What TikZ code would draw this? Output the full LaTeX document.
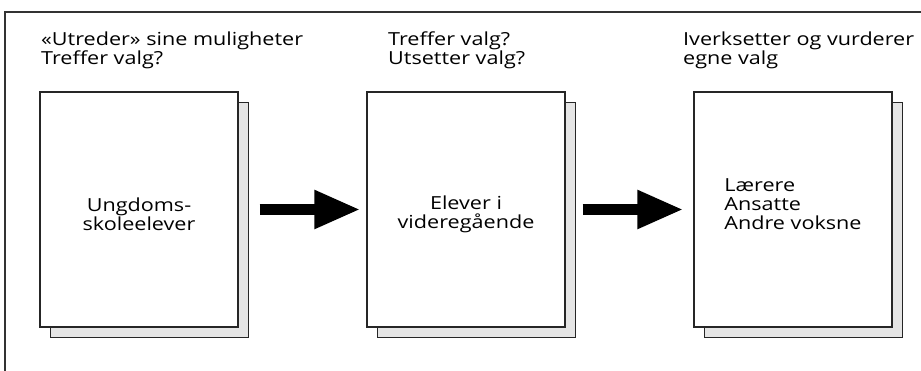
\documentclass[tikz,border=0pt]{standalone}
\usepackage{fontspec}
\setmainfont{Open Sans}[FakeStretch=1.2]
\usetikzlibrary{arrows.meta,shadows}

\begin{document}
\begin{tikzpicture}[x=1pt, y=-1pt,
    every node/.style={font=\fontsize{18}{17}\selectfont},
    stagebox/.style={draw=black!85, line width=1.2pt, fill=white,
        minimum width=198pt, minimum height=235pt, inner sep=0pt,
        drop shadow={shadow xshift=10.5pt, shadow yshift=-10.5pt, opacity=1,
            fill=black!10, draw=black!85, line width=1.2pt}},
    stagetext/.style={align=center, inner sep=0pt, font=\fontsize{18}{19}\selectfont},
    heading/.style={anchor=base west, align=left, inner sep=0pt},
    bigarrow/.style={line width=11pt, -{Triangle[length=46pt, width=36pt]}}]
    \useasboundingbox (0,0) rectangle (921,371);
    % frame
    \draw[line width=1.5pt, black!80] (5,371) -- (5,12) -- (921,12);
    % headings (base = last line)
    \node[heading] (head1) at (41,65) {«Utreder» sine muligheter\\Treffer valg?};
    \node[heading] (head2) at (388,65) {Treffer valg?\\Utsetter valg?};
    \node[heading] (head3) at (683,65) {Iverksetter og vurderer\\egne valg};
    % stages
    \node[stagebox] (ungdom) at (139,209.5) {};
    \node[stagebox] (elever) at (466,209.5) {};
    \node[stagebox] (voksne) at (793,209.5) {};
    \node[stagetext] (ungdomtext) at ([yshift=-5pt]ungdom.center) {Ungdoms-\\skoleelever};
    \node[stagetext] (elevertext) at ([yshift=-5pt]elever.center) {Elever i\\videregående};
    \node[stagetext, align=left] (voksnetext) at ([yshift=5pt]voksne.center) {Lærere\\Ansatte\\Andre voksne};
    % arrows
    \draw[bigarrow, shorten <=21pt, shorten >=6pt] (ungdom) -- (elever);
    \draw[bigarrow, shorten <=17pt, shorten >=10pt] (elever) -- (voksne);
\end{tikzpicture}
\end{document}
